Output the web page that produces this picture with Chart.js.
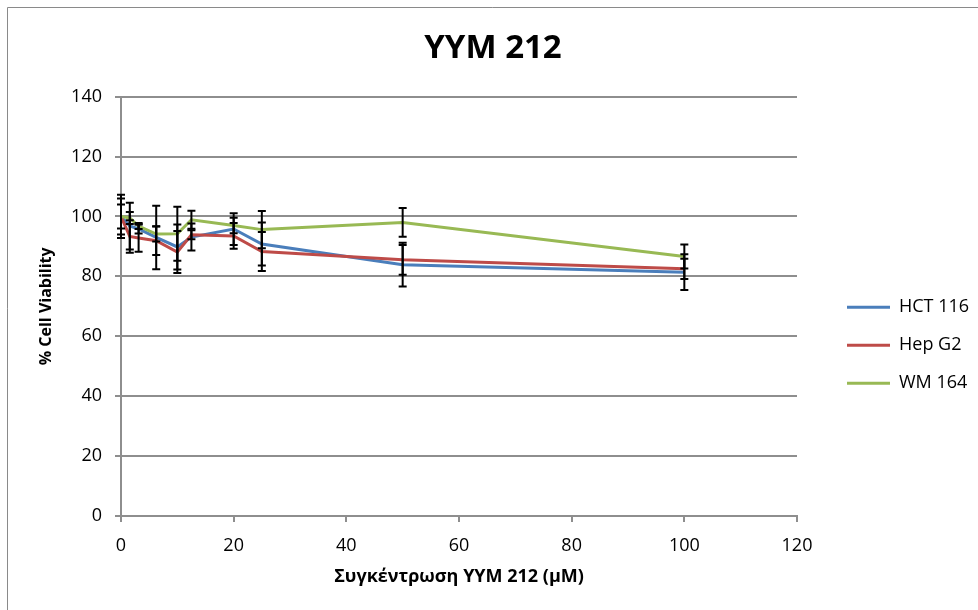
<!DOCTYPE html>
<html>
<head>
<meta charset="utf-8">
<script src="https://cdn.jsdelivr.net/npm/chart.js@4/dist/chart.umd.min.js"></script>
<style>
  body { margin: 0; background: #fff; }
</style>
</head>
<body>
<canvas id="chart" width="978" height="610"></canvas>
<script>
document.addEventListener('DOMContentLoaded', function() {

const concentrations = [0, 1.5625, 3.125, 6.25, 10, 12.5, 20, 25, 50, 100];

const hct116 = [100, 96.8, 95.8, 93.0, 89.8, 93.1, 95.8, 90.8, 83.9, 81.4];
const hepG2 = [100, 93.3, 92.8, 91.9, 88.1, 93.9, 93.5, 88.3, 85.5, 82.5];
const wm164 = [100, 99.5, 96.8, 94.1, 94.2, 98.9, 97.0, 95.6, 98.0, 86.6];

const hct116Err = [7.2, 7.8, 1.5, 10.6, 7.5, 4.5, 5.3, 7.2, 7.3, 6.0];
const hepG2Err = [4.0, 5.4, 4.6, 4.8, 7.0, 1.5, 4.3, 6.5, 5.0, 3.4];
const wm164Err = [6.0, 2.0, 1.0, 2.5, 9.0, 3.0, 2.6, 6.2, 4.8, 4.0];

const font = "'Open Sans', sans-serif";
const gridGray = '#8e8e8e';

function points(values) {
    return concentrations.map((c, i) => ({ x: c, y: values[i] }));
}

// white background and the grey frame of the chart object
const frame = {
    id: 'frame',
    beforeDraw(chart) {
        const ctx = chart.ctx;
        ctx.save();
        ctx.fillStyle = '#fff';
        ctx.fillRect(0, 0, chart.width, chart.height);
        ctx.strokeStyle = '#8a8a8a';
        ctx.lineWidth = 1;
        ctx.beginPath();
        ctx.moveTo(7.5, chart.height);
        ctx.lineTo(7.5, 7.5);
        ctx.lineTo(chart.width, 7.5);
        ctx.stroke();
        ctx.restore();
    }
};

const errorBars = {
    id: 'errorBars',
    afterDatasetsDraw(chart) {
        const ctx = chart.ctx;
        const xs = chart.scales.x;
        const ys = chart.scales.y;
        ctx.save();
        ctx.strokeStyle = '#000';
        ctx.lineWidth = 2;
        chart.data.datasets.forEach(ds => {
            ds.data.forEach((p, j) => {
                const e = ds.errors[j];
                const px = xs.getPixelForValue(p.x);
                const top = ys.getPixelForValue(p.y + e);
                const bot = ys.getPixelForValue(p.y - e);
                ctx.beginPath();
                ctx.moveTo(px, top); ctx.lineTo(px, bot);
                ctx.moveTo(px - 4, top); ctx.lineTo(px + 4, top);
                ctx.moveTo(px - 4, bot); ctx.lineTo(px + 4, bot);
                ctx.stroke();
            });
        });
        ctx.restore();
    }
};

const ctx = document.getElementById('chart').getContext('2d');

new Chart(ctx, {
    type: 'line',
    data: {
        datasets: [{
            label: 'HCT 116',
            data: points(hct116),
            errors: hct116Err,
            borderColor: '#4a7ebb',
            backgroundColor: '#4a7ebb',
            borderWidth: 3,
            pointRadius: 0,
            order: 2
        }, {
            label: 'Hep G2',
            data: points(hepG2),
            errors: hepG2Err,
            borderColor: '#be4b48',
            backgroundColor: '#be4b48',
            borderWidth: 3,
            pointRadius: 0,
            order: 1
        }, {
            label: 'WM 164',
            data: points(wm164),
            errors: wm164Err,
            borderColor: '#98b954',
            backgroundColor: '#98b954',
            borderWidth: 3,
            pointRadius: 0,
            order: 0
        }]
    },
    options: {
        responsive: false,
        animation: false,
        layout: { padding: { left: 8, top: 8, right: 0, bottom: 0 } },
        plugins: {
            title: {
                display: true,
                text: 'YYM 212',
                color: '#000',
                font: { family: font, size: 33, weight: 'bold' },
                padding: { top: 21, bottom: 28 }
            },
            legend: {
                position: 'right',
                maxWidth: 151,
                title: { display: true, text: '', padding: { top: 0, bottom: 58 } },
                labels: {
                    usePointStyle: true,
                    pointStyle: 'line',
                    pointStyleWidth: 43,
                    padding: 20,
                    color: '#000',
                    font: { family: font, size: 18 },
                    sort: (a, b) => a.datasetIndex - b.datasetIndex
                }
            },
            tooltip: { enabled: false }
        },
        scales: {
            x: {
                type: 'linear',
                min: 0,
                max: 120,
                ticks: { stepSize: 20, color: '#000', padding: 13, font: { family: font, size: 18 } },
                grid: { drawOnChartArea: false, tickLength: 6, color: gridGray, lineWidth: 2 },
                border: { color: gridGray, width: 2 },
                title: {
                    display: true,
                    text: 'Συγκέντρωση YYM 212 (μM)',
                    color: '#000',
                    font: { family: font, size: 18, weight: 'bold' },
                    padding: { top: 0, bottom: 22 }
                },
                afterFit: s => { s.height = 94; }
            },
            y: {
                min: 0,
                max: 140,
                ticks: { stepSize: 20, color: '#000', padding: 13, font: { family: font, size: 18 } },
                grid: { tickLength: 6, color: gridGray, lineWidth: 2 },
                border: { color: gridGray, width: 2 },
                title: {
                    display: true,
                    text: '% Cell Viability',
                    color: '#000',
                    font: { family: font, size: 16, weight: 'bold' },
                    padding: { top: 29, bottom: 0 }
                },
                afterFit: s => { s.width = 113; }
            },
            gap: {
                type: 'linear',
                position: 'right',
                ticks: { display: false },
                grid: { display: false },
                border: { display: false },
                afterFit: s => { s.width = 30; }
            }
        }
    },
    plugins: [frame, errorBars]
});

});
</script>
</body>
</html>
